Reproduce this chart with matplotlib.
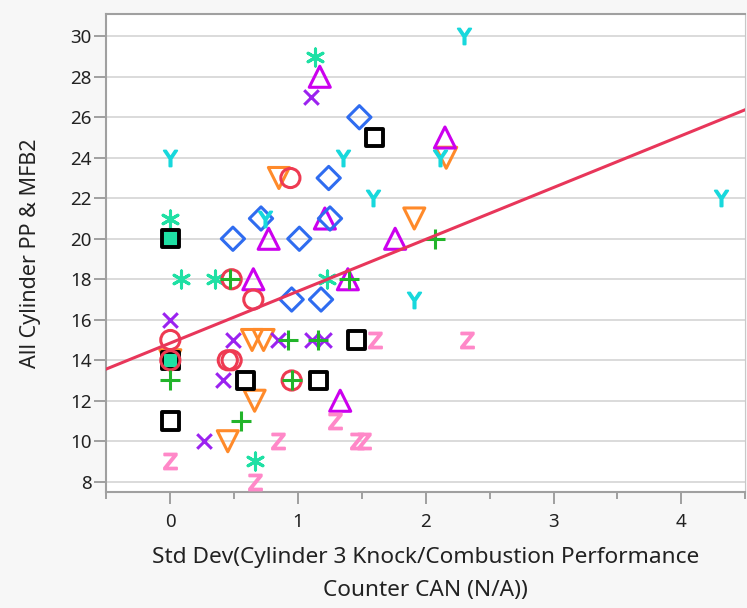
import matplotlib
matplotlib.use("Agg")
import matplotlib.pyplot as plt
import numpy as np

plt.rcParams['font.family'] = ['Noto Sans', 'DejaVu Sans']

# one entry per marker group: x values, y values
sq_x = [0.0, 1.60, 1.46, 0.59, 1.16, 0.0, 0.0]
sq_y = [20, 25, 15, 13, 13, 11, 14]
sq_fill = [True, False, False, False, False, False, True]

ci_x = [0.94, 0.48, 0.65, 0.0, 0.0, 0.45, 0.48, 0.95]
ci_y = [23, 18, 17, 15, 14, 14, 14, 13]

tu_x = [1.17, 2.15, 0.77, 1.21, 1.76, 0.65, 1.39, 1.33]
tu_y = [28, 25, 20, 21, 20, 18, 18, 12]

pl_x = [2.07, 0.47, 1.40, 0.92, 1.16, 0.0, 0.95, 0.55]
pl_y = [20, 18, 18, 15, 15, 13, 13, 11]

xx_x = [1.10, 0.0, 0.49, 0.84, 1.11, 1.20, 0.41, 0.26]
xx_y = [27, 16, 15, 15, 15, 15, 13, 10]

td_x = [0.85, 2.16, 1.91, 0.64, 0.73, 0.66, 0.45, 0.0]
td_y = [23, 24, 21, 15, 15, 12, 10, 14]

di_x = [1.48, 1.24, 0.71, 1.25, 0.49, 1.01, 0.95, 1.18]
di_y = [26, 23, 21, 21, 20, 20, 17, 17]

yy_x = [2.30, 0.0, 1.35, 2.11, 1.59, 4.31, 0.74, 1.91]
yy_y = [30, 24, 24, 24, 22, 22, 21, 17]

zz_x = [1.60, 2.32, 1.29, 0.84, 1.46, 1.52, 0.0, 0.66]
zz_y = [15, 15, 11, 10, 10, 10, 9, 8]

as_x = [1.13, 0.0, 0.08, 0.35, 1.23, 0.66]
as_y = [29, 21, 18, 18, 18, 9]

# fitted line: intercept, slope
fit_b0 = 14.85
fit_b1 = 2.56

fig = plt.figure(figsize=(7.47, 6.08), dpi=100, facecolor='#f7f7f7')
ax = fig.add_axes([0.1425, 0.191, 0.855, 0.786])
ax.set_facecolor('white')

lw = 2.2
ax.scatter(as_x, as_y, marker=(6, 2, 0), s=150, color='#1fe0a4', linewidths=lw, zorder=3)
ax.scatter(td_x, td_y, marker='v', s=230, facecolors='none', edgecolors='#ff8a2a', linewidths=lw, zorder=3)
sq_face = ['#1fe0a4' if f else 'none' for f in sq_fill]
ax.scatter(sq_x, sq_y, marker='s', s=150, facecolors=sq_face, edgecolors='black', linewidths=lw + 0.6, zorder=4)
ax.scatter(ci_x, ci_y, marker='o', s=190, facecolors='none', edgecolors='#ee3a52', linewidths=lw, zorder=5)
ax.scatter(tu_x, tu_y, marker='^', s=230, facecolors='none', edgecolors='#cc00ee', linewidths=lw, zorder=4)
ax.scatter(pl_x, pl_y, marker='+', s=190, color='#22b42a', linewidths=lw, zorder=6)
ax.scatter(xx_x, xx_y, marker='x', s=110, color='#9b22f0', linewidths=lw, zorder=4)
ax.scatter(di_x, di_y, marker='D', s=140, facecolors='none', edgecolors='#2f6cf0', linewidths=lw, zorder=4)
ax.scatter(yy_x, yy_y, marker=r'$\mathsf{Y}$', s=130, color='#18d8dc', edgecolors='#18d8dc',
           linewidths=1.4, zorder=4)
ax.scatter(zz_x, zz_y, marker=r'$\mathsf{Z}$', s=130, color='#ff88c8', edgecolors='#ff88c8',
           linewidths=1.4, zorder=4)

xs = np.array([-0.5, 4.5])
ax.plot(xs, fit_b0 + fit_b1 * xs, color='#e8365a', lw=2.2, zorder=7)

ax.set_xlim(-0.5, 4.5)
ax.set_ylim(7.5, 31.1)
ax.set_yticks(np.arange(8, 31, 2))
ax.set_xticks([0, 1, 2, 3, 4])
ax.set_xticks(np.arange(-0.5, 4.6, 0.5), minor=True)
ax.yaxis.grid(True, color='#d4d4d4', lw=1.2)
ax.set_axisbelow(True)

for side in ['left', 'bottom', 'top']:
    ax.spines[side].set_color('#a0a0a0')
    ax.spines[side].set_linewidth(1.5)
ax.spines['right'].set_color('#c8c8c8')
ax.tick_params(axis='both', colors='#909090', labelcolor='#222222', labelsize=13.5, length=8.5, width=1.2)
ax.tick_params(axis='x', which='minor', colors='#909090', length=5, width=1.2)
ax.tick_params(axis='x', pad=7)
ax.tick_params(axis='y', pad=2)

ax.set_ylabel('All Cylinder PP & MFB2', fontsize=15.5, color='#222222', labelpad=21)
ax.set_xlabel('Std Dev(Cylinder 3 Knock/Combustion Performance\nCounter CAN (N/A))',
              fontsize=16.3, color='#222222', labelpad=11, linespacing=1.75)

fig.savefig('out.png', dpi=100, facecolor=fig.get_facecolor())
